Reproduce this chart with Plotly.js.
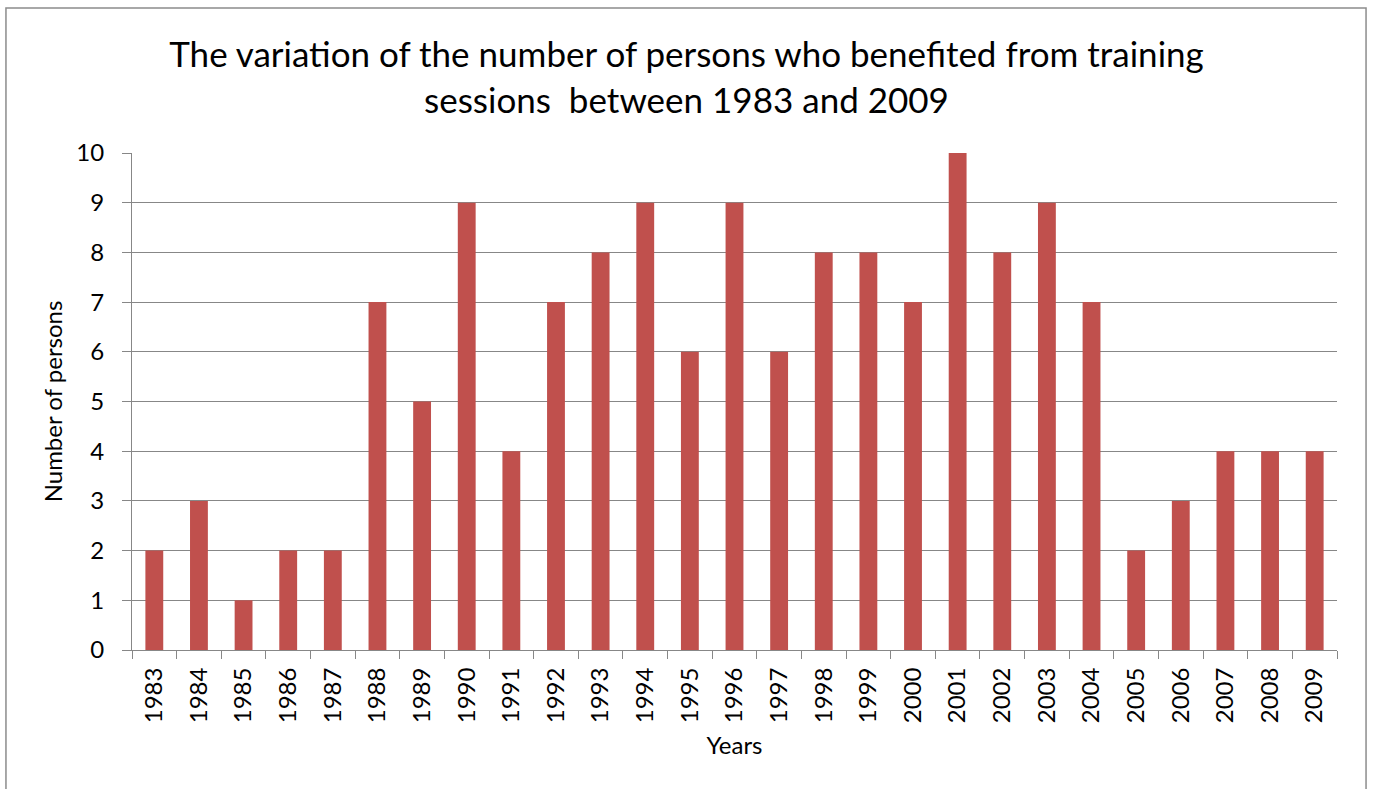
<!DOCTYPE html>
<html>
<head>
<meta charset="utf-8">
<script src="https://cdn.plot.ly/plotly-3.0.1.min.js"></script>
<style>
  html, body { margin: 0; padding: 0; background: #ffffff; }
  #chart { width: 1373px; height: 789px; }
</style>
</head>
<body>
<div id="chart"></div>
<script>
// Training sessions: persons trained per year
const years = ['1983','1984','1985','1986','1987','1988','1989','1990','1991','1992',
               '1993','1994','1995','1996','1997','1998','1999','2000','2001','2002',
               '2003','2004','2005','2006','2007','2008','2009'];
const persons = [2, 3, 1, 2, 2, 7, 5, 9, 4, 7,
                 8, 9, 6, 9, 6, 8, 8, 7, 10, 8,
                 9, 7, 2, 3, 4, 4, 4];
const yTicks = [0, 1, 2, 3, 4, 5, 6, 7, 8, 9, 10];

const FONT = 'Lato, "Open Sans", sans-serif';
const GRID = '#878787';

const trace = {
  type: 'bar',
  x: years,
  y: persons,
  marker: { color: '#C0504D', line: { width: 0 } },
  hoverinfo: 'x+y'
};

const layout = {
  width: 1373,
  height: 789,
  margin: { l: 132, r: 36, t: 153, b: 139 },
  paper_bgcolor: '#ffffff',
  plot_bgcolor: '#ffffff',
  showlegend: false,
  bargap: 0.6,
  font: { family: FONT, color: '#000000' },
  title: {
    text: 'The variation of the number of persons who benefited from training<br>sessions  between 1983 and 2009',
    font: { family: FONT, size: 35, color: '#000000' },
    x: 0.5, xanchor: 'center',
    y: 0.915, yanchor: 'top'
  },
  xaxis: {
    type: 'category',
    tickangle: -90,
    tickfont: { size: 24, family: FONT },
    ticks: 'outside',
    tickson: 'boundaries',
    ticklen: 8,
    tickcolor: GRID,
    tickwidth: 1,
    ticklabelstandoff: 7,
    showline: true,
    linecolor: GRID,
    linewidth: 1,
    showgrid: false,
    zeroline: false,
    title: { text: 'Years', font: { size: 24, family: FONT }, standoff: 14 }
  },
  yaxis: {
    range: [0, 10],
    tickvals: yTicks,
    tickfont: { size: 24, family: FONT },
    ticks: 'outside',
    ticklen: 9,
    tickcolor: GRID,
    ticklabelstandoff: 13,
    showline: true,
    linecolor: GRID,
    linewidth: 1,
    showgrid: true,
    gridcolor: GRID,
    gridwidth: 1,
    zeroline: false,
    title: { text: 'Number of persons', font: { size: 24, family: FONT }, standoff: 6 }
  },
  shapes: [{
    // outer chart frame
    type: 'rect', xref: 'paper', yref: 'paper',
    x0: -0.1046, x1: 1.0241, y0: -0.31, y1: 1.2918,
    line: { color: '#8c8c8c', width: 1.5 },
    fillcolor: 'rgba(0,0,0,0)',
    layer: 'below'
  }]
};

Plotly.newPlot('chart', [trace], layout, { displayModeBar: false, staticPlot: true });
</script>
</body>
</html>
